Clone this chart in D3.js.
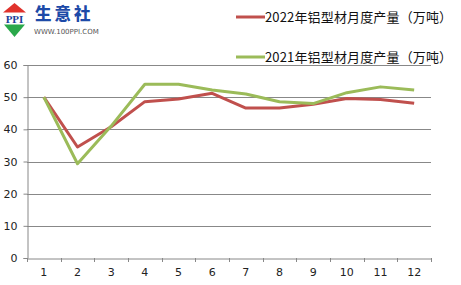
<!DOCTYPE html>
<meta charset="utf-8">
<style>
    body { margin: 0; background: #fff; }
    svg { display: block; }
    .tick text { font: 11px "DejaVu Sans", Verdana, sans-serif; fill: #222; }
    .legend text { font: 13px "Noto Sans CJK SC", sans-serif; fill: #111; }
</style>
<svg width="461" height="285"></svg>
<script src="https://d3js.org/d3.v7.min.js"></script>
<script>

    var months = ["1", "2", "3", "4", "5", "6", "7", "8", "9", "10", "11", "12"];
    var yTicks = [0, 10, 20, 30, 40, 50, 60];
    var series2022 = [50, 34.5, 40.8, 48.6, 49.4, 51.2, 46.6, 46.6, 47.8, 49.6, 49.3, 48.1];
    var series2021 = [50, 29.3, 41, 54, 54, 52.2, 51, 48.6, 48, 51.4, 53.2, 52.2];
    var seriesNames = ["2022年铝型材月度产量（万吨）", "2021年铝型材月度产量（万吨）"];
    var seriesColors = ["#c0504d", "#9bbb59"];

    var svg = d3.select("svg"),
        plotLeft = 27, plotRight = 431, plotTop = 65, plotBottom = 258;

    var x = d3.scaleBand().domain(months).range([plotLeft, plotRight]);
    var y = d3.scaleLinear().domain([0, 60]).range([plotBottom, plotTop]);

    // grid
    svg.append("g")
        .selectAll("line")
        .data(yTicks.slice(1))
        .enter().append("line")
        .attr("x1", plotLeft).attr("x2", plotRight)
        .attr("y1", function (d) { return Math.round(y(d)) + 0.5; })
        .attr("y2", function (d) { return Math.round(y(d)) + 0.5; })
        .style("stroke", "#888").style("stroke-width", 1);

    var yAxis = svg.append("g")
        .attr("transform", "translate(" + (plotLeft + 0.5) + ",0)")
        .call(d3.axisLeft(y).tickValues(yTicks).tickSize(4).tickPadding(6));
    yAxis.select(".domain").style("stroke", "#888");
    yAxis.selectAll(".tick line").style("stroke", "#888");

    var xAxis = svg.append("g")
        .attr("transform", "translate(0," + (plotBottom + 0.5) + ")")
        .call(d3.axisBottom(x).tickSize(0).tickPadding(10));
    xAxis.select(".domain").style("stroke", "#888");

    // tick marks between categories
    svg.append("g")
        .selectAll("line")
        .data(months)
        .enter().append("line")
        .attr("x1", function (d) { return Math.round(x(d) + x.bandwidth()) + 0.5; })
        .attr("x2", function (d) { return Math.round(x(d) + x.bandwidth()) + 0.5; })
        .attr("y1", plotBottom).attr("y2", plotBottom + 4)
        .style("stroke", "#888");
    svg.append("line")
        .attr("x1", plotLeft + 0.5).attr("x2", plotLeft + 0.5)
        .attr("y1", plotBottom).attr("y2", plotBottom + 4)
        .style("stroke", "#888");

    var line = d3.line()
        .x(function (d, i) { return x(months[i]) + x.bandwidth() / 2; })
        .y(function (d) { return y(d); });

    [series2022, series2021].forEach(function (s, i) {
        svg.append("path")
            .datum(s)
            .attr("d", line)
            .style("fill", "none")
            .style("stroke", seriesColors[i])
            .style("stroke-width", 3)
            .style("stroke-linejoin", "round");
    });

    // legend
    var legend = svg.append("g").attr("class", "legend");
    [17, 57].forEach(function (ly, i) {
        legend.append("line")
            .attr("x1", 236).attr("x2", 265)
            .attr("y1", ly).attr("y2", ly)
            .style("stroke", seriesColors[i]).style("stroke-width", 3);
        legend.append("text")
            .attr("x", 265).attr("y", ly + 4.5)
            .style("letter-spacing", "0.15px")
            .text(seriesNames[i]);
    });

    // logo
    var logo = svg.append("g");
    logo.append("path").attr("d", "M14.5,3 L26,12.5 L3,12.5 Z").style("fill", "#e0322c");
    logo.append("path").attr("d", "M4,24.5 L25,24.5 L14.5,37 Z").style("fill", "#2aa84a");
    logo.append("text")
        .attr("x", 14.5).attr("y", 22.5)
        .attr("text-anchor", "middle")
        .style("font", "bold 11px 'Liberation Serif', serif")
        .style("fill", "#1d3f9a")
        .text("PPI");
    logo.append("text")
        .attr("x", 35).attr("y", 20)
        .style("font", "900 16.5px 'Noto Sans CJK SC', sans-serif")
        .style("letter-spacing", "3px")
        .style("fill", "#1d4aa8")
        .text("生意社");
    logo.append("text")
        .attr("x", 34).attr("y", 34)
        .style("font", "7px 'DejaVu Sans', sans-serif")
        .style("fill", "#555")
        .text("WWW.100PPI.COM");
</script>
